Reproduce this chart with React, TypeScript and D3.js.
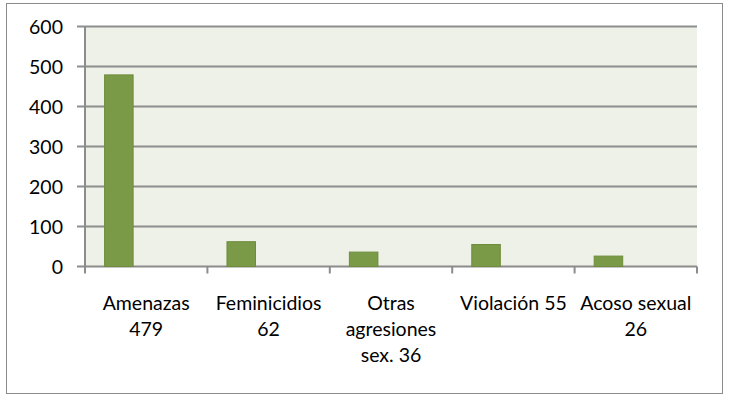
import React from "react";
import * as d3 from "d3";

const categories: string[][] = [
  ["Amenazas", "479"],
  ["Feminicidios", "62"],
  ["Otras", "agresiones", "sex. 36"],
  ["Violación 55"],
  ["Acoso sexual", "26"],
];
const values: number[] = [479, 62, 36, 55, 26];
const yTicks: number[] = [0, 100, 200, 300, 400, 500, 600];

const W = 730;
const H = 400;
const plot = { left: 85, right: 697, top: 26.5, bottom: 266.5 };
const FONT = "Lato, 'Open Sans', sans-serif";

export default function App() {
  const x = d3
    .scaleBand<number>()
    .domain(values.map((_, i) => i))
    .range([plot.left, plot.right])
    .paddingInner(0)
    .paddingOuter(0);
  const y = d3.scaleLinear().domain([0, 600]).range([plot.bottom, plot.top]);
  const bw = x.bandwidth();
  const boundaries = d3.range(values.length + 1).map((i) => plot.left + i * bw);

  return (
    <div style={{ position: "absolute", left: 0, top: 0 }}>
      <svg width={W} height={H} style={{ display: "block" }}>
        <rect x={0} y={0} width={W} height={H} fill="#ffffff" />
        <rect x={6.5} y={3.5} width={716} height={390} fill="#ffffff" stroke="#8a8a8a" strokeWidth={1} />
        <rect
          x={plot.left}
          y={plot.top}
          width={plot.right - plot.left}
          height={plot.bottom - plot.top}
          fill="#EEF1E7"
        />
        {yTicks.map((t) => (
          <g key={t}>
            <line
              x1={77}
              x2={plot.right}
              y1={y(t)}
              y2={y(t)}
              stroke={t === 0 ? "#8c8c8c" : "#8e8e8e"}
              strokeWidth={2}
            />
            <text
              x={63}
              y={y(t)}
              textAnchor="end"
              dominantBaseline="central"
              fontFamily={FONT}
              fontSize={19.5}
              fill="#000000"
            >
              {t}
            </text>
          </g>
        ))}
        <line x1={plot.left} x2={plot.left} y1={plot.top} y2={plot.bottom + 7} stroke="#8c8c8c" strokeWidth={2} />
        {boundaries.slice(1).map((bx, i) => (
          <line key={i} x1={bx} x2={bx} y1={plot.bottom} y2={plot.bottom + 7} stroke="#8c8c8c" strokeWidth={2} />
        ))}
        {values.map((v, i) => {
          const x0 = x(i) as number;
          return (
            <rect
              key={i}
              x={x0 + bw * 0.16}
              y={y(v)}
              width={bw * 0.233}
              height={plot.bottom - y(v)}
              fill="#7A9A47"
              stroke="#6E8C3C"
              strokeWidth={1}
            />
          );
        })}
        {categories.map((lines, i) => {
          const cx = (x(i) as number) + bw / 2;
          return (
            <text
              key={i}
              x={cx}
              textAnchor="middle"
              fontFamily={FONT}
              fontSize={19.5}
              fill="#000000"
            >
              {lines.map((ln, j) => (
                <tspan key={j} x={cx} y={310 + j * 26}>
                  {ln}
                </tspan>
              ))}
            </text>
          );
        })}
      </svg>
    </div>
  );
}
